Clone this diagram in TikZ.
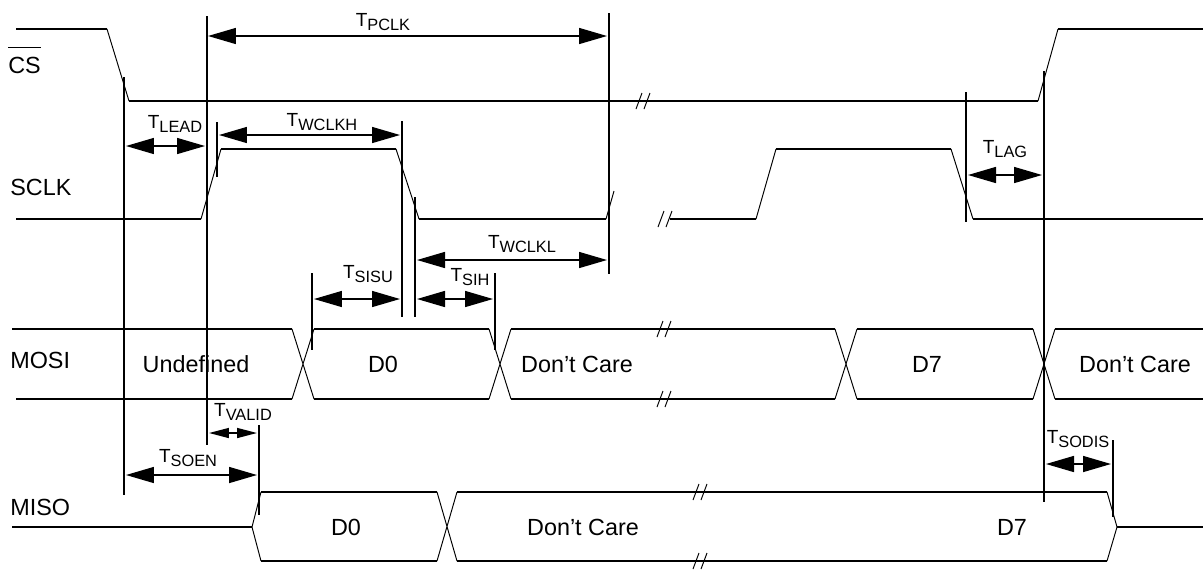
\documentclass[tikz,border=0pt]{standalone}
\usepackage{fontspec}
\setmainfont{Liberation Sans}
\usepackage{tikz}
\usetikzlibrary{arrows.meta}
\tikzstyle{sig} = [line width=0.85pt]
\tikzstyle{edge} = [line width=0.55pt]
\tikzstyle{vbar} = [line width=0.85pt]
\tikzstyle{dimarrow} = [line width=0.85pt, {Triangle[length=0.56cm,width=0.32cm]}-{Triangle[length=0.56cm,width=0.32cm]}]
\tikzstyle{dimsmall} = [line width=0.85pt, {Triangle[length=0.4cm,width=0.2cm]}-{Triangle[length=0.4cm,width=0.2cm]}]
\tikzstyle{signame} = [anchor=west, inner sep=0pt, font=\fontsize{13.3}{16}\selectfont]
\tikzstyle{data} = [inner sep=0pt, font=\fontsize{13.3}{16}\selectfont]
\tikzstyle{tlabel} = [inner sep=0pt]
\tikzset{brk/.pic={\draw[edge] (-7,8) -- (-1,-8) (1,8) -- (7,-8);}}
\newcommand{\tm}[1]{{\fontsize{10.8}{13}\selectfont T}\raisebox{-2.6pt}{\fontsize{9.3}{11}\selectfont #1}}

\begin{document}
\begin{tikzpicture}[x=0.02cm,y=-0.02cm]
	\useasboundingbox (0,0) rectangle (1203,569);

	% signal names
	\node (csname) [signame] at (8,65) {CS};
	\draw [sig] ([yshift=5pt]csname.north west) -- ([yshift=5pt]csname.north east);
	\node (sclkname) [signame] at (10,187) {SCLK};
	\node (mosiname) [signame] at (10,360) {MOSI};
	\node (misoname) [signame] at (10,507) {MISO};

	% CS
	\draw [sig] (16,29) -- (107,29) (129,101) -- (1038,101) (1058,29) -- (1203,29);
	\draw [edge] (107,29) -- (129,101) (1038,101) -- (1058,29);
	\pic at (643,101) {brk};

	% SCLK
	\draw [sig] (16,219) -- (201,219) (221,149) -- (396,149) (419,219) -- (606,219)
		(670,219) -- (756,219) (776,149) -- (951,149) (973,219) -- (1203,219);
	\draw [edge] (201,219) -- (221,149) (396,149) -- (419,219) (606,219) -- (614,191)
		(756,219) -- (776,149) (951,149) -- (973,219);
	\pic at (665,219) {brk};

	% MOSI
	\draw [sig] (12,329) -- (292,329) (314,329) -- (489,329) (511,329) -- (835,329)
		(857,329) -- (1033,329) (1055,329) -- (1203,329);
	\draw [sig] (16,399) -- (292,399) (314,399) -- (489,399) (511,399) -- (835,399)
		(857,399) -- (1033,399) (1055,399) -- (1203,399);
	\foreach \c in {303,500,846,1044}
		\draw [edge] (\c-11,329) -- (\c+11,399) (\c-11,399) -- (\c+11,329);
	\pic at (664,329) {brk};
	\pic at (664,399) {brk};

	% MISO
	\draw [sig] (12,527) -- (252,527) (261,492) -- (437,492) (457,492) -- (1107,492)
		(261,561) -- (437,561) (457,561) -- (1107,561) (1117,527) -- (1203,527);
	\draw [edge] (261,492) -- (252,527) -- (261,561) (1107,492) -- (1117,527) -- (1107,561)
		(437,492) -- (457,561) (437,561) -- (457,492);
	\pic at (700,492) {brk};
	\pic at (700,561) {brk};

	% data labels
	\node (undef) [data] at (196,364) {Undefined};
	\node (mosid0) [data] at (383,364) {D0};
	\node (mosidc) [data] at (577,364) {Don't Care};
	\node (mosid7) [data] at (927,364) {D7};
	\node (mosidcb) [data] at (1135,364) {Don't Care};
	\node (misod0) [data] at (346,527) {D0};
	\node (misodc) [data] at (583,527) {Don't Care};
	\node (misod7) [data] at (1012,527) {D7};

	% reference lines
	\draw [vbar] (124,77) -- (124,495);
	\draw [vbar] (207,16) -- (207,445);
	\draw [vbar] (609,13) -- (609,274);
	\draw [vbar] (217,122) -- (217,177);
	\draw [vbar] (402,121) -- (402,317);
	\draw [vbar] (415,197) -- (415,317);
	\draw [vbar] (495,273) -- (495,350);
	\draw [vbar] (312,273) -- (312,350);
	\draw [vbar] (1044,71) -- (1044,502);
	\draw [vbar] (966,92) -- (966,222);
	\draw [vbar] (259,425) -- (259,515);
	\draw [vbar] (1113,440) -- (1113,517);

	% timing arrows
	\draw [dimarrow] (208,36) -- (607,36);
	\draw [dimarrow] (126,146) -- (205,146);
	\draw [dimarrow] (219,135) -- (400,135);
	\draw [dimarrow] (417,260) -- (607,260);
	\draw [dimarrow] (314,299) -- (400,299);
	\draw [dimarrow] (417,299) -- (493,299);
	\draw [dimarrow] (968,175) -- (1042,175);
	\draw [dimsmall] (209,433) -- (257,433);
	\draw [dimarrow] (126,475) -- (257,475);
	\draw [dimarrow] (1046,464) -- (1111,464);

	% timing labels
	\node (tpclk) [tlabel] at (383,22) {\tm{PCLK}};
	\node (tlead) [tlabel] at (175,124) {\tm{LEAD}};
	\node (twclkh) [tlabel] at (322,122) {\tm{WCLKH}};
	\node (twclkl) [tlabel] at (522,244) {\tm{WCLKL}};
	\node (tsisu) [tlabel] at (368,274) {\tm{SISU}};
	\node (tsih) [tlabel] at (470,277) {\tm{SIH}};
	\node (tlag) [tlabel] at (1005,149) {\tm{LAG}};
	\node (tvalid) [tlabel] at (243,412) {\tm{VALID}};
	\node (tsoen) [tlabel] at (188,458) {\tm{SOEN}};
	\node (tsodis) [tlabel] at (1078,439) {\tm{SODIS}};
\end{tikzpicture}
\end{document}
